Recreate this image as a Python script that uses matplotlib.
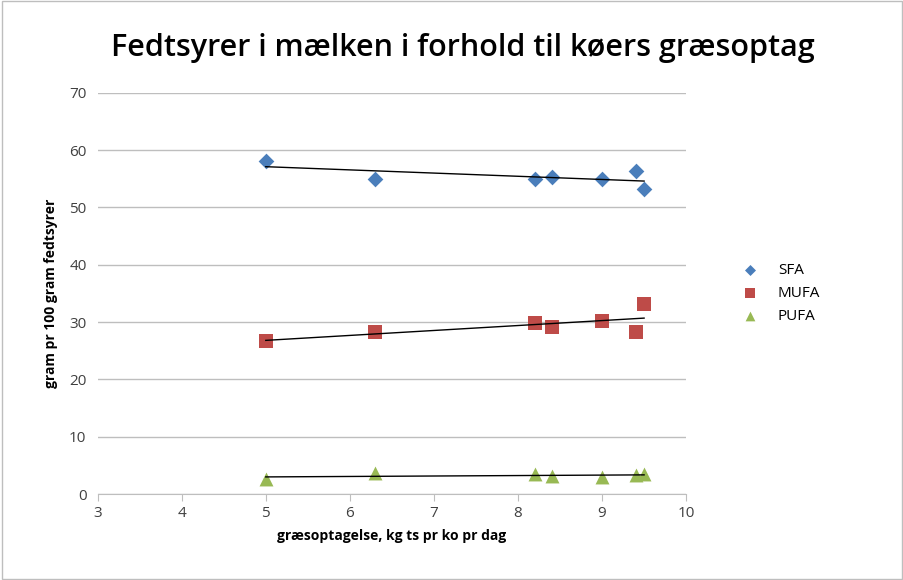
import numpy as np
import matplotlib.pyplot as plt

# Data
x = [5.0, 6.3, 8.2, 8.4, 9.0, 9.4, 9.5]
sfa = [58.1, 55.0, 55.0, 55.4, 55.0, 56.4, 53.3]
mufa = [26.7, 28.3, 29.8, 29.2, 30.2, 28.3, 33.2]
pufa = [2.6, 3.7, 3.5, 3.1, 3.0, 3.3, 3.5]

series = [
    ('SFA', sfa, '#4A7EBB', 'D', 8),
    ('MUFA', mufa, '#BE4B48', 's', 10),
    ('PUFA', pufa, '#98B954', '^', 10),
]

plt.rcParams['font.family'] = ['Open Sans', 'DejaVu Sans']

fig = plt.figure(figsize=(9.04, 5.8), dpi=100)
ax = fig.add_axes([0.108, 0.148, 0.651, 0.692])

xs = np.array(x)
for name, vals, color, marker, size in series:
    ax.scatter(xs, vals, marker=marker, s=size ** 2, color=color, label=name, zorder=3, linewidths=0)
    k, b = np.polyfit(xs, vals, 1)
    xl = np.array([xs.min(), xs.max()])
    ax.plot(xl, k * xl + b, color='black', linewidth=1.0, zorder=4)

ax.set_xlim(3, 10)
ax.set_ylim(0, 70)
ax.set_xticks(range(3, 11))
ax.set_yticks(range(0, 71, 10))
ax.grid(axis='y', color='#BEBEBE', linewidth=1)
ax.set_axisbelow(True)
for s in ['top', 'right', 'left']:
    ax.spines[s].set_visible(False)
ax.spines['bottom'].set_color('#BEBEBE')
ax.tick_params(axis='x', direction='out', length=5, color='#BEBEBE', labelsize=11, labelcolor='#404040')
ax.tick_params(axis='y', length=0, labelsize=11, labelcolor='#404040', pad=8)

ax.set_xlabel('græsoptagelse, kg ts pr ko pr dag', fontsize=10, fontweight='bold', labelpad=6)
ax.set_ylabel('gram pr 100 gram fedtsyrer', fontsize=10, fontweight='bold', labelpad=8)

fig.text(0.512, 0.917, 'Fedtsyrer i mælken i forhold til køers græsoptag', ha='center', va='center',
         fontsize=22, fontweight='semibold')

ax.legend(loc='center left', bbox_to_anchor=(1.06, 0.5), frameon=False, fontsize=11,
          handletextpad=0.8, labelspacing=0.5, markerscale=0.7)

fig.add_artist(plt.Rectangle((0.002, 0.002), 0.996, 0.996, transform=fig.transFigure,
                             fill=False, edgecolor='#BEBEBE', linewidth=1))

fig.savefig('out.png', dpi=100)
